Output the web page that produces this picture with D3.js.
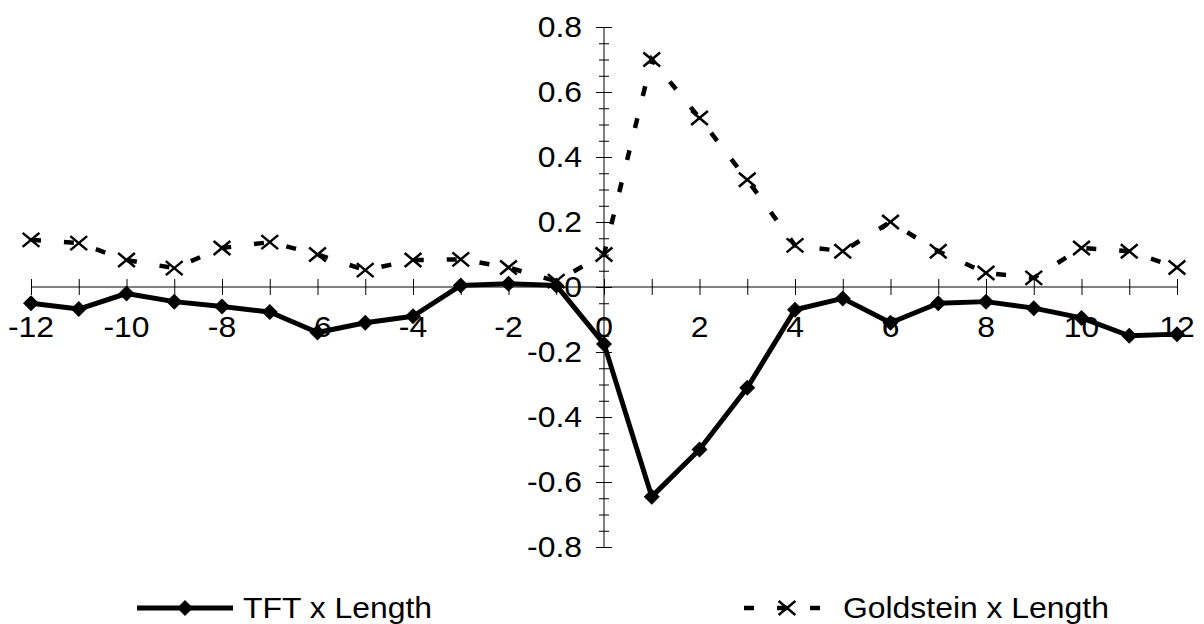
<!DOCTYPE html>
<html>
<head>
<meta charset="utf-8">
<script src="https://cdn.jsdelivr.net/npm/d3@7"></script>
<style>
  body { margin: 0; background: #fff; }
  text { font-family: "Liberation Sans", Arial, sans-serif; fill: #000; }
</style>
</head>
<body>
<svg id="chart" width="1204" height="624"></svg>
<script>
// lags on the x axis
const lags = [-12, -11, -10, -9, -8, -7, -6, -5, -4, -3, -2, -1, 0, 1, 2, 3, 4, 5, 6, 7, 8, 9, 10, 11, 12]

const tftLength = [-0.05, -0.068, -0.02, -0.045, -0.06, -0.077, -0.14, -0.11, -0.09, 0.005, 0.01, 0.005,
    -0.175, -0.645, -0.50, -0.31, -0.07, -0.035, -0.11, -0.05, -0.045, -0.065, -0.095, -0.15, -0.145]

const goldsteinLength = [0.145, 0.135, 0.083, 0.058, 0.12, 0.138, 0.10, 0.052, 0.083, 0.085, 0.06, 0.018,
    0.10, 0.70, 0.52, 0.33, 0.128, 0.11, 0.20, 0.11, 0.043, 0.028, 0.12, 0.11, 0.06]

const xTickLabels = [-12, -10, -8, -6, -4, -2, 0, 2, 4, 6, 8, 10, 12]
const yTickLabels = [0.8, 0.6, 0.4, 0.2, 0, -0.2, -0.4, -0.6, -0.8]
const seriesNames = ['TFT x Length', 'Goldstein x Length']

const fontSize = 29
const stretch = 1.1   // the reference text is a little wider than Arial

const svg = d3.select('#chart')

const x = d3.scaleLinear().domain([-12, 12]).range([31, 1177])
const y = d3.scaleLinear().domain([-0.8, 0.8]).range([547, 27])

function label(g, tx, ty, str, anchor) {
    g.append('text')
        .attr('transform', `translate(${tx},${ty}) scale(${stretch},1)`)
        .attr('text-anchor', anchor)
        .attr('dy', '0.35em')
        .style('font-size', fontSize + 'px')
        .text(str)
}

// x axis along y = 0
const xAxisG = svg.append('g').attr('transform', `translate(0,${y(0)})`)
xAxisG.call(d3.axisBottom(x).tickValues(lags).tickSize(8).tickFormat(''))
xAxisG.select('.domain').attr('stroke', '#000').attr('d', `M${x(-12)},0H${x(12)}`)
xAxisG.selectAll('.tick line').attr('y1', -8).attr('y2', 8).attr('stroke', '#000')

// y axis along x = 0, minor ticks every 0.05
const minorTicks = d3.range(-16, 17).map(i => i * 0.05)
const yMinor = svg.append('g').attr('transform', `translate(${x(0)},0)`)
yMinor.call(d3.axisLeft(y).tickValues(minorTicks).tickSize(5).tickFormat(''))
yMinor.select('.domain').attr('stroke', '#000').attr('d', `M0,${y(0.8)}V${y(-0.8)}`)
yMinor.selectAll('.tick line').attr('x1', 5).attr('x2', -5).attr('stroke', '#000')

const yMajor = svg.append('g').attr('transform', `translate(${x(0)},0)`)
yMajor.call(d3.axisLeft(y).tickValues(yTickLabels).tickSize(8).tickFormat(''))
yMajor.select('.domain').remove()
yMajor.selectAll('.tick line').attr('x1', 8).attr('x2', -8).attr('stroke', '#000')

// tick labels
const labelsG = svg.append('g')
xTickLabels.forEach(v => label(labelsG, x(v), y(0) + 40, String(v), 'middle'))
yTickLabels.forEach(v => label(labelsG, x(0) - 22, y(v), String(v), 'end'))

// Goldstein series: dashed line with x markers
const line = d3.line().x((d, i) => x(lags[i])).y(d => y(d))

svg.append('path')
    .datum(goldsteinLength)
    .attr('d', line)
    .attr('fill', 'none')
    .attr('stroke', '#000')
    .attr('stroke-width', 4.5)
    .attr('stroke-dasharray', '10,23')

function cross(g, cx, cy) {
    const s = 7
    g.append('path')
        .attr('d', `M${cx - s * 1.2},${cy - s}L${cx + s * 1.2},${cy + s}M${cx - s * 1.2},${cy + s}L${cx + s * 1.2},${cy - s}`)
        .attr('stroke', '#000')
        .attr('stroke-width', 2.5)
        .attr('fill', 'none')
}

const crossG = svg.append('g')
goldsteinLength.forEach((v, i) => cross(crossG, x(lags[i]), y(v)))

// TFT series: solid line with diamonds
svg.append('path')
    .datum(tftLength)
    .attr('d', line)
    .attr('fill', 'none')
    .attr('stroke', '#000')
    .attr('stroke-width', 5)
    .attr('stroke-linejoin', 'round')

function diamond(g, cx, cy) {
    const s = 8
    g.append('path')
        .attr('d', `M${cx},${cy - s}L${cx + s},${cy}L${cx},${cy + s}L${cx - s},${cy}Z`)
        .attr('fill', '#000')
}

const diamondG = svg.append('g')
tftLength.forEach((v, i) => diamond(diamondG, x(lags[i]), y(v)))

// legend
const legend = svg.append('g')
const ly = 608
legend.append('line')
    .attr('x1', 137).attr('x2', 233).attr('y1', ly).attr('y2', ly)
    .attr('stroke', '#000').attr('stroke-width', 5)
diamond(legend, 185, ly)
label(legend, 243, ly, seriesNames[0], 'start')

legend.append('line')
    .attr('x1', 739).attr('x2', 835).attr('y1', ly).attr('y2', ly)
    .attr('stroke', '#000').attr('stroke-width', 4.5)
    .attr('stroke-dasharray', '10,23')
    .attr('stroke-dashoffset', -5)
cross(legend, 787, ly)
label(legend, 843, ly, seriesNames[1], 'start')
</script>
</body>
</html>
